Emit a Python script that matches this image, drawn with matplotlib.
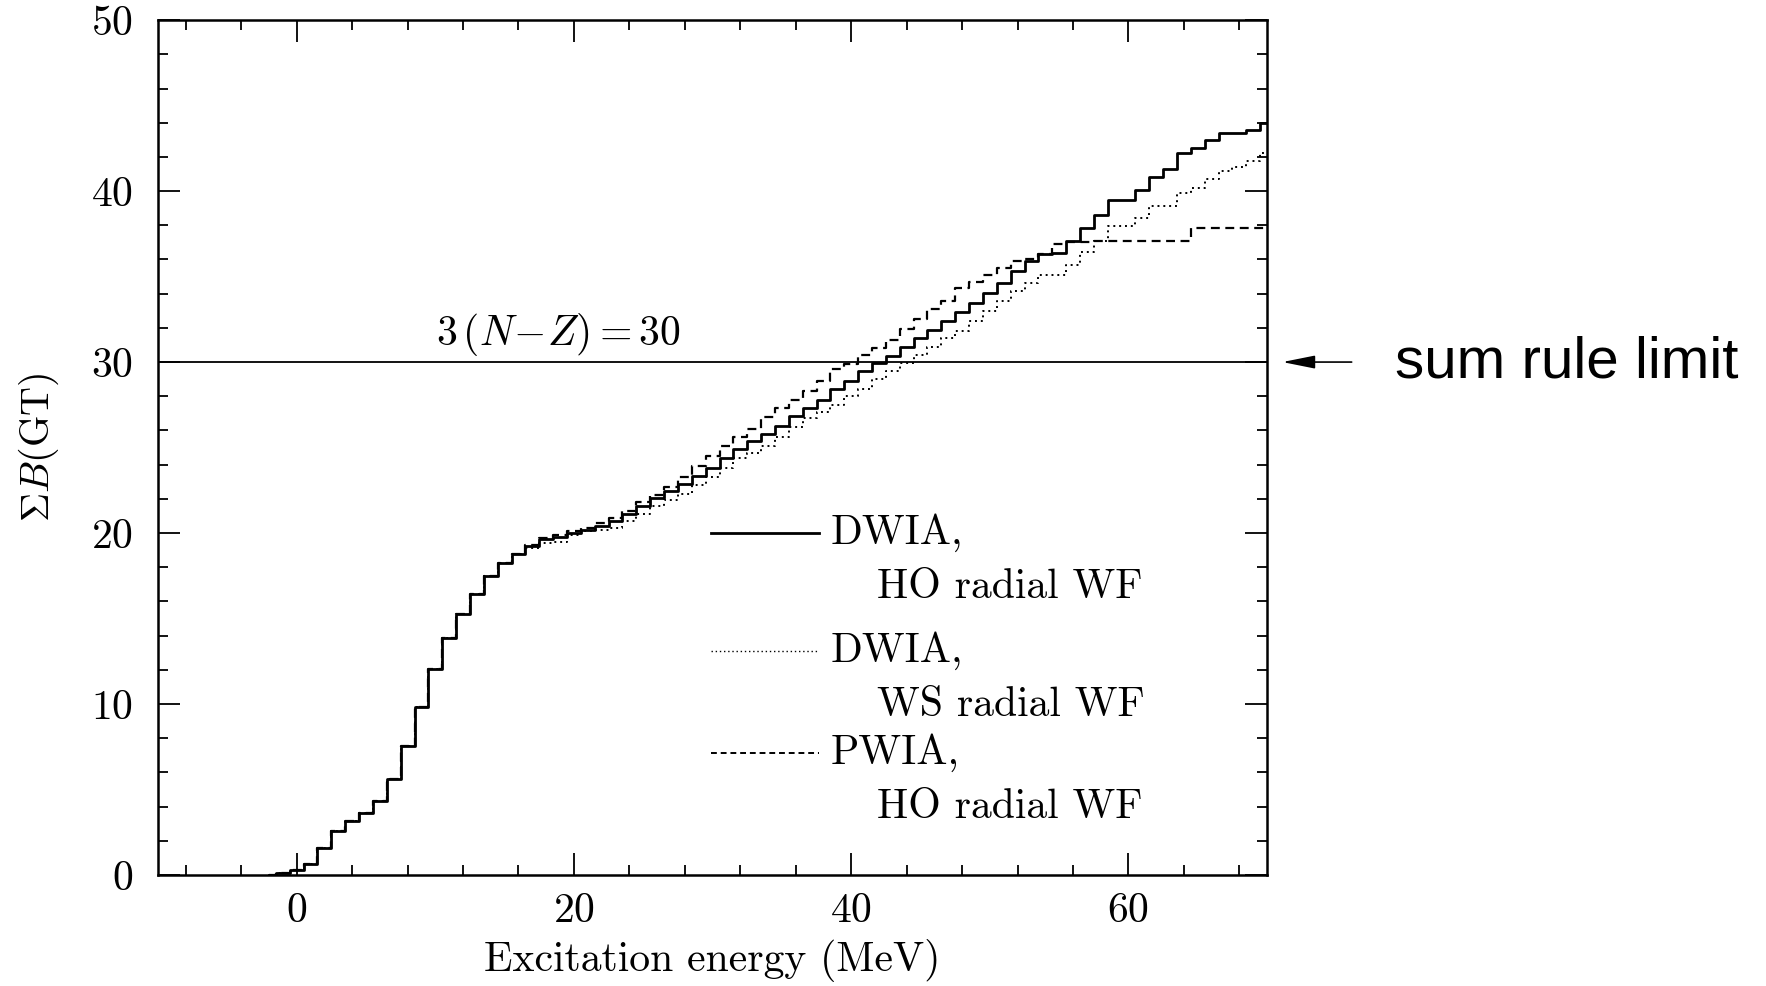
"""Cumulative GT strength vs excitation energy, sum rule limit"""

import matplotlib
matplotlib.use('Agg')
from matplotlib import pyplot as plt
import numpy as np

plt.rcParams['font.family'] = ['cmr10', 'DejaVu Serif']
plt.rcParams['mathtext.fontset'] = 'cm'
plt.rcParams['axes.formatter.use_mathtext'] = True

# bin centres (MeV), 1 MeV bins
energy = np.arange(-2, 71)

# DWIA, HO radial WF (solid)
dwia_ho = [0.0, 0.12, 0.3, 0.66, 1.6, 2.57, 3.16, 3.64, 4.33, 5.6,
           7.54, 9.82, 12.03, 13.84, 15.28, 16.45, 17.49, 18.26, 18.79,
           19.24, 19.63, 19.75, 20.0, 20.2, 20.4, 20.7, 21.1, 21.6, 22.06,
           22.46, 22.85, 23.33, 23.8, 24.4, 24.9, 25.4, 25.8, 26.26, 26.84,
           27.3, 27.8, 28.4, 28.9, 29.5, 29.96, 30.35, 30.9, 31.4, 31.9,
           32.4, 32.9, 33.47, 34.05, 34.6, 35.3, 35.9, 36.3, 36.4, 37.1,
           37.85, 38.6, 39.5, 39.5, 40.04, 40.8, 41.27, 42.2, 42.5, 43.0,
           43.4, 43.4, 43.6, 44.0]

# DWIA, WS radial WF (dotted)
dwia_ws = [0.0, 0.12, 0.3, 0.66, 1.6, 2.57, 3.16, 3.64, 4.33, 5.6,
           7.54, 9.82, 12.03, 13.84, 15.28, 16.45, 17.49, 18.26, 18.79,
           19.1, 19.4, 19.5, 19.9, 20.1, 20.2, 20.3, 20.7, 21.1, 21.6,
           21.96, 22.3, 22.8, 23.3, 23.8, 24.4, 24.7, 25.1, 25.6, 26.2,
           26.7, 27.1, 27.5, 28.0, 28.4, 29.0, 29.5, 29.96, 30.4, 30.9,
           31.4, 31.8, 32.4, 33.0, 33.6, 34.15, 34.6, 35.1, 35.1, 35.7,
           36.45, 37.1, 37.95, 37.95, 38.4, 39.1, 39.1, 39.9, 40.2, 40.7,
           41.2, 41.4, 41.75, 42.2]

# PWIA, HO radial WF (dashed)
pwia_ho = [0.0, 0.12, 0.3, 0.66, 1.6, 2.57, 3.16, 3.64, 4.33, 5.6,
           7.54, 9.82, 12.03, 13.84, 15.28, 16.45, 17.49, 18.26, 18.79,
           19.3, 19.7, 19.9, 20.1, 20.3, 20.6, 20.9, 21.3, 21.8, 22.2,
           22.7, 23.3, 23.9, 24.5, 25.1, 25.6, 26.1, 26.8, 27.3, 27.8,
           28.3, 28.9, 29.6, 29.9, 30.4, 30.8, 31.3, 31.95, 32.5, 33.1,
           33.6, 34.35, 34.7, 35.1, 35.5, 35.9, 36.0, 36.3, 36.9, 37.0,
           37.0, 37.1, 37.1, 37.1, 37.1, 37.1, 37.1, 37.1, 37.85, 37.85,
           37.85, 37.85, 37.85, 37.85]

sum_rule = 30

fig = plt.figure(figsize=(17.66, 9.86), dpi=100)
ax = fig.add_axes([0.0895, 0.1126, 0.628, 0.867])

ax.step(energy, dwia_ho, where='mid', color='black', linewidth=2.0)
ax.step(energy, dwia_ws, where='mid', color='black', linewidth=1.4,
        linestyle=(0, (1, 2)))
ax.step(energy, pwia_ho, where='mid', color='black', linewidth=1.6,
        linestyle=(0, (4, 2.5)))
ax.axhline(sum_rule, color='black', linewidth=1.3)

ax.text(18.9, 30.25, r'$3\,(N\!-\!Z)=30$', fontsize=30, ha='center',
        va='bottom')

# legend drawn by hand so the two-line labels sit like the original
leg = [('-', 2.0, 0.400, 'DWIA,', 'HO radial WF'),
       ((0, (1, 2)), 1.0, 0.262, 'DWIA,', 'WS radial WF'),
       ((0, (3, 2)), 1.4, 0.143, 'PWIA,', 'HO radial WF')]
for ls, lw, yy, l1, l2 in leg:
    ax.plot([0.499, 0.596], [yy, yy], transform=ax.transAxes, color='black',
            linestyle=ls, linewidth=lw)
    ax.text(0.606, yy, l1, transform=ax.transAxes, fontsize=30,
            va='center', ha='left')
    ax.text(0.648, yy - 0.064, l2, transform=ax.transAxes, fontsize=30,
            va='center', ha='left')

ax.set_xlim(-10, 70)
ax.set_ylim(0, 50)
ax.set_xticks([0, 20, 40, 60])
ax.set_xticks(np.arange(-8, 70, 4), minor=True)
ax.set_yticks(np.arange(0, 51, 10))
ax.set_yticks(np.arange(0, 51, 2), minor=True)
ax.tick_params(which='both', direction='in', top=True, right=True,
               labelsize=30, width=1.3)
ax.tick_params(which='major', length=16)
ax.tick_params(which='minor', length=7)
ax.tick_params(axis='y', pad=18)
ax.tick_params(axis='x', pad=13)
for sp in ax.spines.values():
    sp.set_linewidth(1.8)

ax.set_xlabel('Excitation energy (MeV)', fontsize=30, labelpad=6)
ax.set_ylabel(r'$\Sigma B(\mathrm{GT})$', fontsize=29, labelpad=22)

ax.annotate('', xy=(70.9, sum_rule), xytext=(76.3, sum_rule),
            annotation_clip=False,
            arrowprops=dict(arrowstyle='-|>,head_length=2.0,head_width=0.4',
                            color='black', linewidth=1.2))
ax.text(79.2, sum_rule, 'sum rule limit', fontsize=42, va='center',
        ha='left', family='Liberation Sans')

fig.savefig('out.png', dpi=100)
